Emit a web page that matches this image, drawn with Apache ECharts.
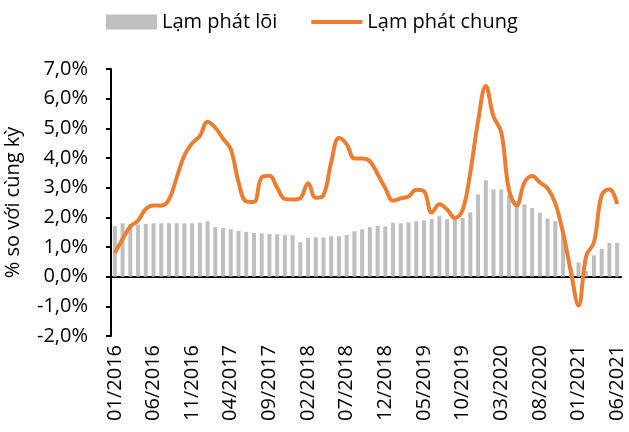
<!DOCTYPE html>
<html>
<head>
<meta charset="utf-8">
<script src="https://cdn.jsdelivr.net/npm/echarts@6/dist/echarts.min.js"></script>
<style>
  html, body { margin: 0; padding: 0; background: #fff; }
  #chart { width: 629px; height: 432px; }
</style>
</head>
<body>
<div id="chart"></div>
<script>
// thang 01/2016 -> 06/2021
const years = [2016, 2017, 2018, 2019, 2020, 2021]
const months = []
years.forEach(y => {
  for (let m = 1; m <= 12; m++) {
    if (y === 2021 && m > 6) break
    months.push((m < 10 ? '0' + m : '' + m) + '/' + y)
  }
})

// Lam phat loi (% so voi cung ky)
const coreInflation = [
  1.71, 1.80, 1.78, 1.76, 1.78, 1.80, 1.80, 1.80, 1.80, 1.80, 1.80, 1.82,
  1.87, 1.67, 1.64, 1.60, 1.54, 1.51, 1.47, 1.46, 1.44, 1.43, 1.41, 1.40,
  1.16, 1.31, 1.33, 1.32, 1.36, 1.36, 1.40, 1.53, 1.60, 1.67, 1.71, 1.69,
  1.82, 1.80, 1.83, 1.87, 1.90, 1.94, 2.04, 1.94, 1.94, 1.98, 2.17, 2.77,
  3.25, 2.94, 2.94, 2.75, 2.55, 2.44, 2.31, 2.16, 1.96, 1.87, 1.50, 0.30,
  0.48, 0.19, 0.72, 0.94, 1.14, 1.14
]

// Lam phat chung (% so voi cung ky)
const headlineInflation = [
  0.80, 1.27, 1.69, 1.89, 2.28, 2.40, 2.39, 2.60, 3.34, 4.09, 4.50, 4.74,
  5.22, 5.02, 4.65, 4.30, 3.19, 2.54, 2.52, 3.35, 3.40, 3.00, 2.62, 2.60,
  2.65, 3.15, 2.66, 2.75, 3.86, 4.67, 4.46, 3.98, 3.98, 3.89, 3.46, 2.98,
  2.56, 2.64, 2.70, 2.93, 2.88, 2.16, 2.44, 2.26, 1.98, 2.24, 3.52, 5.23,
  6.43, 5.40, 4.87, 2.93, 2.40, 3.17, 3.39, 3.18, 2.98, 2.47, 1.48, 0.19,
  -0.97, 0.70, 1.16, 2.75, 2.95, 2.45
]

const yMin = -2
const yMax = 7
const yStep = 1

const fontFamily = '"Open Sans", "Noto Sans", sans-serif'
const textColor = '#000'
const fontSize = 20

const chart = echarts.init(document.getElementById('chart'), null, { renderer: 'canvas' })

chart.setOption({
  animation: false,
  backgroundColor: '#fff',
  textStyle: { fontFamily: fontFamily, color: textColor },
  legend: {
    left: 106,
    top: 12,
    padding: 0,
    itemWidth: 51,
    itemHeight: 15,
    itemGap: 32,
    textStyle: { fontSize: fontSize, color: textColor, fontFamily: fontFamily },
    data: [
      { name: 'Lạm phát lõi', icon: 'rect' },
      { name: 'Lạm phát chung', itemStyle: { opacity: 0 }, lineStyle: { width: 4 } }
    ]
  },
  grid: {
    left: 111,
    right: 8,
    top: 69,
    bottom: 96,
    containLabel: false,
    outerBoundsMode: 'none'
  },
  xAxis: {
    type: 'category',
    data: months,
    boundaryGap: true,
    axisLine: { onZero: true, lineStyle: { color: '#000', width: 2 } },
    axisTick: { interval: 4, length: 5, lineStyle: { color: '#000', width: 2 } },
    axisLabel: {
      interval: 4,
      rotate: 90,
      margin: 9,
      fontSize: fontSize,
      color: textColor,
      fontFamily: fontFamily
    },
    splitLine: { show: false }
  },
  yAxis: {
    type: 'value',
    min: yMin,
    max: yMax,
    interval: yStep,
    name: '% so với cùng kỳ',
    nameLocation: 'middle',
    nameGap: 88,
    nameTextStyle: { fontSize: fontSize, color: textColor, fontFamily: fontFamily },
    axisLine: { show: true, lineStyle: { color: '#000', width: 2 } },
    axisTick: { show: true, length: 5, lineStyle: { color: '#000', width: 2 } },
    axisLabel: {
      margin: 23,
      fontSize: fontSize,
      color: textColor,
      fontFamily: fontFamily,
      formatter: v => v.toFixed(1).replace('.', ',') + '%'
    },
    splitLine: { show: false }
  },
  series: [
    {
      name: 'Lạm phát lõi',
      type: 'bar',
      data: coreInflation,
      barWidth: 4,
      itemStyle: { color: '#bfbfbf' }
    },
    {
      name: 'Lạm phát chung',
      type: 'line',
      data: headlineInflation,
      smooth: 0.4,
      symbol: 'none',
      lineStyle: { color: '#ed7d31', width: 4 },
      itemStyle: { color: '#ed7d31' }
    }
  ]
})

window.addEventListener('resize', () => chart.resize())
</script>
</body>
</html>
